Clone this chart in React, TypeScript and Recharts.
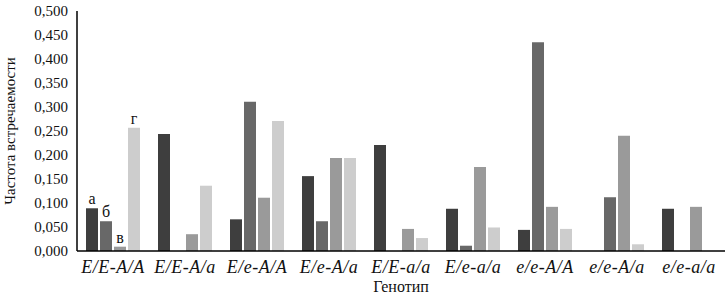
import { BarChart, Bar, XAxis, YAxis, LabelList } from 'recharts';

const genotypes = ['E/E-A/A', 'E/E-A/a', 'E/e-A/A', 'E/e-A/a', 'E/E-a/a', 'E/e-a/a', 'e/e-A/A', 'e/e-A/a', 'e/e-a/a'];
const seriesA = [0.089, 0.244, 0.066, 0.156, 0.221, 0.088, 0.044, 0, 0.088];
const seriesB = [0.062, 0, 0.311, 0.062, 0, 0.011, 0.435, 0.112, 0];
const seriesV = [0.009, 0.035, 0.111, 0.194, 0.046, 0.175, 0.092, 0.240, 0.092];
const seriesG = [0.257, 0.136, 0.271, 0.194, 0.027, 0.049, 0.046, 0.014, 0];
const yTicks = [0, 0.05, 0.1, 0.15, 0.2, 0.25, 0.3, 0.35, 0.4, 0.45, 0.5];

const data = genotypes.map((g, i) => ({
  g,
  a: seriesA[i],
  b: seriesB[i],
  v: seriesV[i],
  gg: seriesG[i],
}));

const font = 'Liberation Serif, Times New Roman, serif';

// letter over the bar in the first group only
const letter = (txt: string) => (props: any) => {
  const { x, y, width, index } = props;
  if (index !== 0) return null;
  return (
    <text x={x + width / 2} y={y - 4} textAnchor="middle" style={{ fontFamily: font }} fontSize={16} fill="#111">
      {txt}
    </text>
  );
};

export default function App() {
  return (
    <div style={{ position: 'absolute', top: 0, left: 0, background: '#fff', fontFamily: font }}>
      <BarChart
        width={727}
        height={296}
        data={data}
        margin={{ top: 11, right: 2, left: 0, bottom: 0 }}
        barGap={2}
        barCategoryGap={9}
        style={{ fontFamily: font }}
      >
        <XAxis
          dataKey="g"
          interval={0}
          tickLine={false}
          axisLine={{ stroke: '#000', strokeWidth: 1.5 }}
          tick={{ fontSize: 18, fontStyle: 'italic', fill: '#111', style: { fontFamily: font, letterSpacing: 0.5 } }}
          tickMargin={3}
          height={45}
          label={{ value: 'Генотип', position: 'insideBottom', offset: 4, style: { fontFamily: font, fontSize: 16, fill: '#111' } }}
        />
        <YAxis
          domain={[0, 0.5]}
          ticks={yTicks}
          interval={0}
          width={77}
          tickLine={false}
          tickSize={6}
          tickMargin={3}
          axisLine={{ stroke: '#000', strokeWidth: 1.5 }}
          tickFormatter={(v: number) => v.toFixed(3).replace('.', ',')}
          tick={{ fontSize: 15, fill: '#111', style: { fontFamily: font } }}
          label={{ value: 'Частота встречаемости', angle: -90, position: 'insideLeft', offset: 10, style: { textAnchor: 'middle', fontFamily: font, fontSize: 15, fill: '#111' } }}
        />
        <Bar dataKey="a" fill="#3e3e3e" isAnimationActive={false}>
          <LabelList dataKey="a" content={letter('а')} />
        </Bar>
        <Bar dataKey="b" fill="#686868" isAnimationActive={false}>
          <LabelList dataKey="b" content={letter('б')} />
        </Bar>
        <Bar dataKey="v" fill="#9a9a9a" isAnimationActive={false}>
          <LabelList dataKey="v" content={letter('в')} />
        </Bar>
        <Bar dataKey="gg" fill="#cdcdcd" isAnimationActive={false}>
          <LabelList dataKey="gg" content={letter('г')} />
        </Bar>
      </BarChart>
    </div>
  );
}
